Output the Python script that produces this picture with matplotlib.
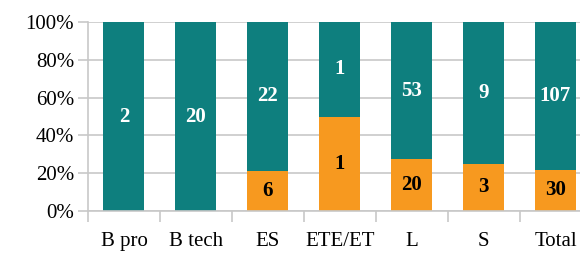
import matplotlib.pyplot as plt
import numpy as np

categories = ["B pro", "B tech", "ES", "ETE/ET", "L", "S", "Total"]
orange_counts = [0, 0, 6, 1, 20, 3, 30]
teal_counts = [2, 20, 22, 1, 53, 9, 107]

plt.rcParams["font.family"] = ["Liberation Serif", "DejaVu Serif"]

orange = np.array(orange_counts, dtype=float)
teal = np.array(teal_counts, dtype=float)
total = orange + teal
orange_pct = orange / total * 100
teal_pct = teal / total * 100

fig = plt.figure(figsize=(5.8, 2.54), dpi=100)
# axes run a little past the right edge, like the cropped original
ax = fig.add_axes([88 / 580, 1 - 211 / 254, (590 - 88) / 580, (211 - 22) / 254])

x = np.arange(len(categories))
w = 0.57
teal_c = "#0e7f7e"
orange_c = "#f7991f"
ax.bar(x, orange_pct, w, color=orange_c, zorder=2)
ax.bar(x, teal_pct, w, bottom=orange_pct, color=teal_c, zorder=2)

for i in range(len(categories)):
    if orange[i] > 0:
        ax.text(x[i], orange_pct[i] / 2, str(orange_counts[i]), ha="center",
                va="center", fontsize=15, fontweight="bold", color="black")
    ax.text(x[i], orange_pct[i] + teal_pct[i] / 2, str(teal_counts[i]),
            ha="center", va="center", fontsize=15, fontweight="bold", color="white")

ax.set_xlim(-0.48, len(categories) - 0.52)
ax.set_ylim(0, 100)
ax.set_yticks(np.arange(0, 101, 20))
ax.set_yticklabels([f"{v}%" for v in range(0, 101, 20)], fontsize=15)
ax.yaxis.grid(True, color="#c8c8c8", linewidth=1.2, zorder=0)
ax.tick_params(axis="y", length=7, color="#c8c8c8", width=1.2, pad=3)

ax.set_xticks(x)
ax.set_xticklabels(categories, fontsize=15)
ax.set_xticks(np.arange(len(categories)) - 0.5, minor=True)
ax.tick_params(axis="x", which="major", length=0, pad=15)
ax.tick_params(axis="x", which="minor", length=8, color="#c8c8c8", width=1.2)

for s in ["top", "right"]:
    ax.spines[s].set_visible(False)
for s in ["left", "bottom"]:
    ax.spines[s].set_color("#c8c8c8")
    ax.spines[s].set_linewidth(1.2)

fig.savefig("out.png", dpi=100)
